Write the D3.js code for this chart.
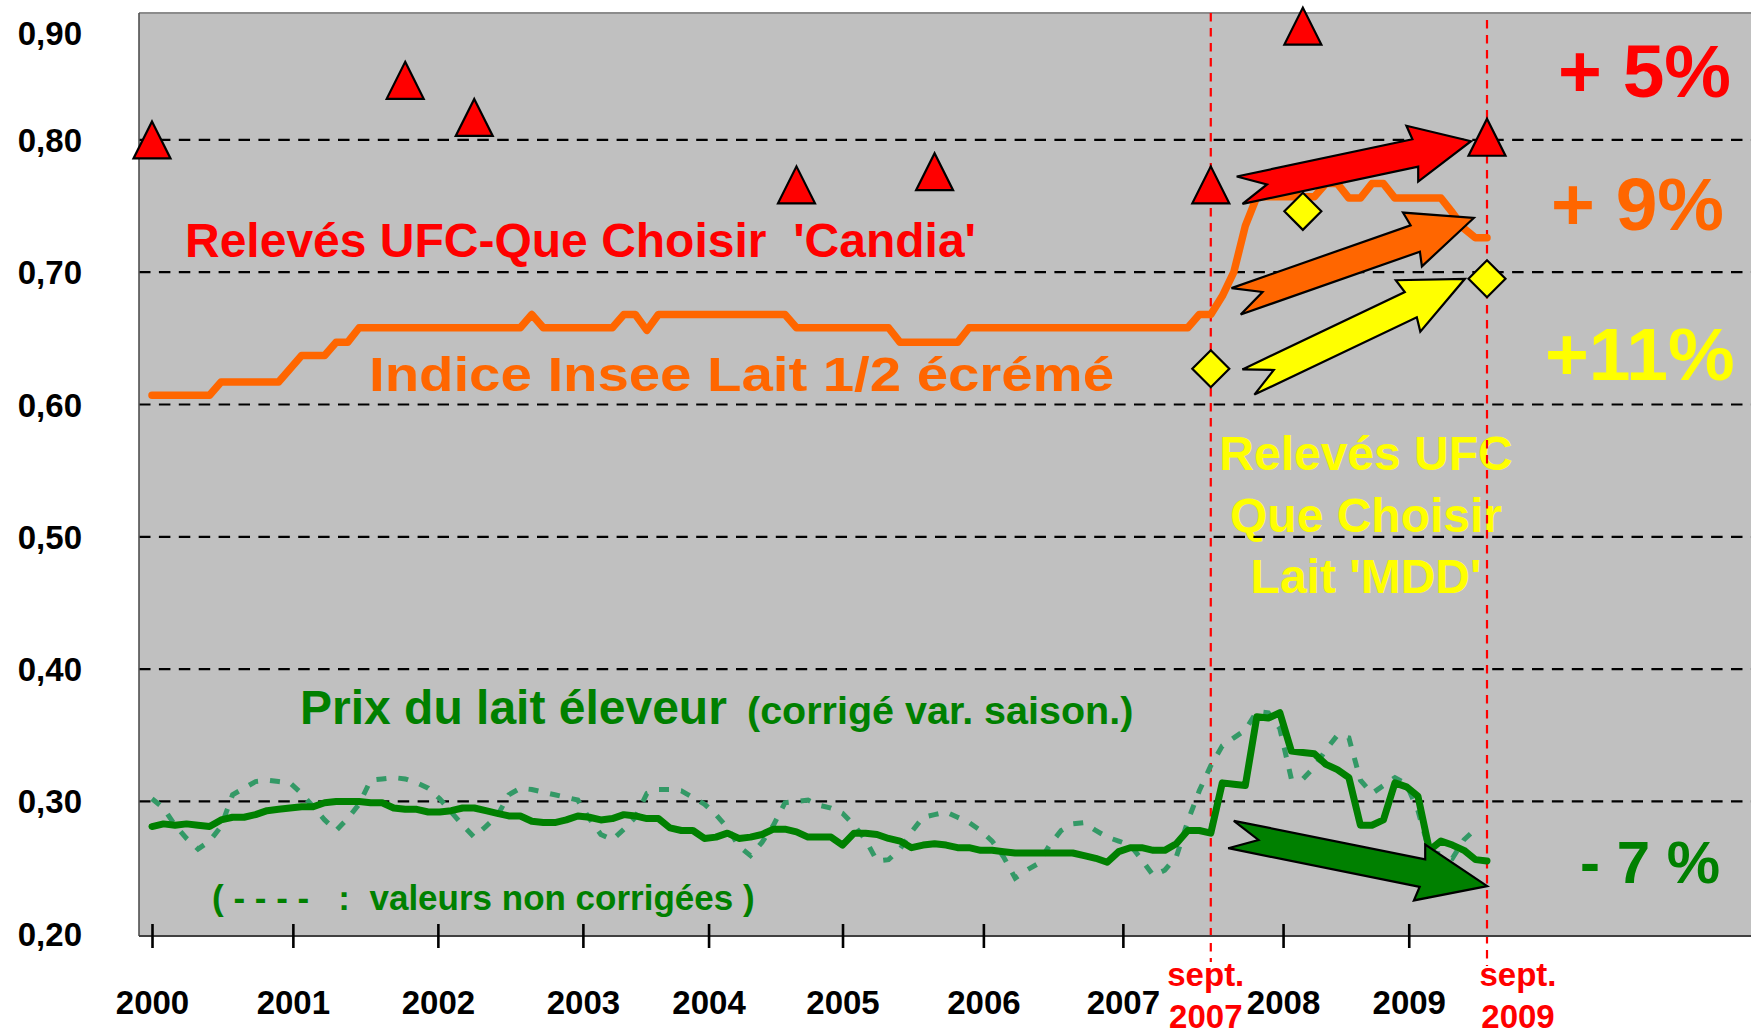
<!DOCTYPE html>
<html><head><meta charset="utf-8">
<script src="https://cdn.jsdelivr.net/npm/d3@7/dist/d3.min.js"></script>
<style>
html,body{margin:0;padding:0;background:#fff;}
svg{display:block;font-family:"Liberation Sans",Arial,Helvetica,sans-serif;font-weight:bold;}
text{white-space:pre;}
</style></head><body>
<svg id="c" width="1751" height="1035"></svg>
<script>
// ---------- DATA ----------
const yTickValues = [0.2, 0.3, 0.4, 0.5, 0.6, 0.7, 0.8, 0.9];
const yTickLabels = ["0,20", "0,30", "0,40", "0,50", "0,60", "0,70", "0,80", "0,90"];
const yearLabels = ["2000", "2001", "2002", "2003", "2004", "2005", "2006", "2007", "2008", "2009"];
const yearTickDates = [2000.00, 2001.02, 2002.07, 2003.12, 2004.03, 2005.00, 2006.02, 2007.03, 2008.19, 2009.10];

// monthly series, January 2000 .. September 2009
const inseeLait = [
  0.607,0.607,0.607,0.607,0.607,0.607, 0.617,0.617,0.617,0.617,0.617,0.617,
  0.627,0.637,0.637,0.637,0.647,0.647, 0.658,0.658,0.658,0.658,0.658,0.658,
  0.658,0.658,0.658,0.658,0.658,0.658, 0.658,0.658,0.658,0.668,0.658,0.658,
  0.658,0.658,0.658,0.658,0.658,0.668, 0.668,0.656,0.668,0.668,0.668,0.668,
  0.668,0.668,0.668,0.668,0.668,0.668, 0.668,0.668,0.658,0.658,0.658,0.658,
  0.658,0.658,0.658,0.658,0.658,0.647, 0.647,0.647,0.647,0.647,0.647,0.658,
  0.658,0.658,0.658,0.658,0.658,0.658, 0.658,0.658,0.658,0.658,0.658,0.658,
  0.658,0.658,0.658,0.658,0.658,0.658, 0.658,0.668,0.668,0.682,0.700,0.735,
  0.757,0.757,0.757,0.757,0.757,0.757, 0.767,0.767,0.756,0.756,0.767,0.767,
  0.756,0.756,0.756,0.756,0.756,0.745, 0.733,0.726,0.726
];
const prixEleveurCorrige = [
  0.281,0.283,0.282,0.283,0.282,0.281, 0.286,0.288,0.288,0.290,0.293,0.294,
  0.295,0.296,0.296,0.299,0.300,0.300, 0.300,0.299,0.299,0.295,0.294,0.294,
  0.292,0.292,0.293,0.295,0.295,0.293, 0.291,0.289,0.289,0.285,0.284,0.284,
  0.286,0.289,0.288,0.286,0.287,0.290, 0.289,0.287,0.287,0.280,0.278,0.278,
  0.272,0.273,0.276,0.272,0.273,0.275, 0.279,0.279,0.277,0.273,0.273,0.273,
  0.267,0.276,0.276,0.275,0.272,0.270, 0.265,0.267,0.268,0.267,0.265,0.265,
  0.263,0.263,0.262,0.261,0.261,0.261, 0.261,0.261,0.261,0.259,0.257,0.254,
  0.262,0.265,0.265,0.263,0.263,0.268, 0.278,0.278,0.276,0.314,0.313,0.312,
  0.364,0.363,0.367,0.338,0.337,0.336, 0.328,0.324,0.318,0.282,0.282,0.286,
  0.314,0.311,0.304,0.263,0.270,0.267, 0.263,0.256,0.255
];
const prixEleveurBrut = [
  0.302,0.295,0.282,0.272,0.264,0.270, 0.281,0.305,0.310,0.315,0.316,0.315,
  0.314,0.306,0.296,0.286,0.278,0.287, 0.298,0.316,0.317,0.318,0.317,0.314,
  0.310,0.302,0.292,0.282,0.273,0.281, 0.289,0.305,0.310,0.309,0.307,0.305,
  0.303,0.301,0.287,0.275,0.271,0.279, 0.288,0.306,0.309,0.309,0.308,0.303,
  0.298,0.290,0.280,0.266,0.259,0.269, 0.282,0.299,0.300,0.301,0.297,0.295,
  0.291,0.282,0.271,0.255,0.256,0.264, 0.277,0.288,0.290,0.292,0.288,0.284,
  0.278,0.270,0.258,0.242,0.248,0.253, 0.267,0.278,0.283,0.284,0.278,0.273,
  0.270,0.267,0.256,0.244,0.248,0.258, 0.285,0.308,0.327,0.342,0.348,0.354,
  0.368,0.367,0.355,0.317,0.317,0.326, 0.339,0.350,0.348,0.316,0.306,0.312,
  0.318,0.313,0.293,0.262,0.260,0.257, 0.271,0.279
];
// UFC-Que Choisir surveys (month index from Jan 2000)
const candiaMonths = [0, 22, 28, 56, 68, 92, 100, 116];
const candiaValues = [0.800, 0.845, 0.817, 0.766, 0.776, 0.766, 0.886, 0.802];
const mddMonths = [92, 100, 116];
const mddValues = [0.627, 0.746, 0.695];

// trend arrows (date, value) from -> to
const arrowFrom = [[2007.875, 0.762], [2007.850, 0.678], [2007.939, 0.617], [2007.813, 0.275]];
const arrowTo   = [[2009.551, 0.799], [2009.571, 0.741], [2009.507, 0.695], [2009.668, 0.236]];
const percentLabels = ["+ 5%", "+ 9%", "+11%", "- 7 %"];
const markerDates = [2007 + 8/12, 2009 + 8/12];  // sept. 2007, sept. 2009
const markerLabels = ["2007", "2009"];

// ---------- LAYOUT ----------
const NB = "\u00A0";
const svg = d3.select("#c");
const P = {left: 139, top: 13, right: 1751, bottom: 936};
const x = d3.scaleLinear().domain([2000, 2009 + 8/12]).range([152, 1487]);
const y = d3.scaleLinear().domain([0.2, 0.9]).range([933.7, 7.6]);
const mDate = m => 2000 + m / 12;
const COL = {red: "#FF0000", orange: "#FF6600", yellow: "#FFFF00", green: "#008000", greenDash: "#339966"};

svg.append("rect").attr("x", 0).attr("y", 0).attr("width", 1751).attr("height", 1035).attr("fill", "#fff");
svg.append("rect").attr("x", P.left).attr("y", P.top).attr("width", P.right - P.left).attr("height", P.bottom - P.top).attr("fill", "#C0C0C0");

// annotation texts (under grid)
const ann = svg.append("g");
ann.append("text").attr("x", 185).attr("y", 257).attr("font-size", 48).attr("fill", COL.red)
  .text("Relevés UFC-Que Choisir" + NB + NB + "'Candia'");
ann.append("text").attr("x", 369).attr("y", 391).attr("font-size", 48).attr("fill", COL.orange)
  .attr("textLength", 745).attr("lengthAdjust", "spacingAndGlyphs")
  .text("Indice Insee Lait 1/2 écrémé");
const mdd = ann.append("text").attr("font-size", 48).attr("fill", COL.yellow).attr("text-anchor", "middle");
[["Relevés UFC", 470], ["Que Choisir", 532], ["Lait 'MDD'", 593]].forEach(([t, yy]) =>
  mdd.append("tspan").attr("x", 1366).attr("y", yy).text(t));
const prix = ann.append("text").attr("y", 724).attr("fill", COL.green);
prix.append("tspan").attr("x", 300).attr("font-size", 48).text("Prix du lait éleveur");
prix.append("tspan").attr("x", 747).attr("font-size", 39.5).text("(corrigé var. saison.)");
ann.append("text").attr("x", 212).attr("y", 910).attr("font-size", 35).attr("fill", COL.green)
  .text(("( - - - -   :  valeurs non corrigées )").replace(/ /g, NB));

// gridlines
svg.append("g").selectAll("line").data(yTickValues.filter(v => v > 0.2 && y(v) > P.top)).join("line")
  .attr("x1", P.left).attr("x2", P.right).attr("y1", d => y(d)).attr("y2", d => y(d))
  .attr("stroke", "#000").attr("stroke-width", 2.2).attr("stroke-dasharray", "11.5,8.4");

// plot borders
svg.append("line").attr("x1", P.left).attr("x2", P.right).attr("y1", P.top).attr("y2", P.top)
  .attr("stroke", "#8c8c8c").attr("stroke-width", 2);
svg.append("line").attr("x1", P.left).attr("x2", P.left).attr("y1", P.top).attr("y2", P.bottom)
  .attr("stroke", "#505050").attr("stroke-width", 1.6);

// red vertical markers
svg.append("g").selectAll("line").data(markerDates).join("line")
  .attr("x1", d => x(d)).attr("x2", d => x(d)).attr("y1", (d, i) => i ? 20 : P.top).attr("y2", (d, i) => i ? 966 : 962)
  .attr("stroke", COL.red).attr("stroke-width", 2.2).attr("stroke-dasharray", "8.5,6.5");

// series lines
const line = d3.line().x((d, i) => x(mDate(i))).y(d => y(d));
svg.append("path").datum(prixEleveurBrut).attr("d", line).attr("fill", "none")
  .attr("stroke", COL.greenDash).attr("stroke-width", 5).attr("stroke-dasharray", "10,12");
svg.append("path").datum(prixEleveurCorrige).attr("d", line).attr("fill", "none")
  .attr("stroke", COL.green).attr("stroke-width", 7).attr("stroke-linejoin", "round").attr("stroke-linecap", "round");
svg.append("path").datum(inseeLait).attr("d", line).attr("fill", "none")
  .attr("stroke", COL.orange).attr("stroke-width", 7.5).attr("stroke-linejoin", "round").attr("stroke-linecap", "round");

// markers
const tri = "M0,-18.5L18.5,18.5L-18.5,18.5Z";
const dia = "M0,-18.5L18.5,0L0,18.5L-18.5,0Z";
svg.append("g").selectAll("path").data(candiaMonths).join("path")
  .attr("d", tri).attr("transform", (m, i) => `translate(${x(mDate(m))},${y(candiaValues[i])})`)
  .attr("fill", COL.red).attr("stroke", "#000").attr("stroke-width", 2.2).attr("stroke-linejoin", "miter");
svg.append("g").selectAll("path").data(mddMonths).join("path")
  .attr("d", dia).attr("transform", (m, i) => `translate(${x(mDate(m))},${y(mddValues[i])})`)
  .attr("fill", COL.yellow).attr("stroke", "#000").attr("stroke-width", 2.2);

// notched block arrows
function arrowPath(from, to, shaft, headW, headL, notch) {
  const x0 = x(from[0]), y0 = y(from[1]), x1 = x(to[0]), y1 = y(to[1]);
  const len = Math.hypot(x1 - x0, y1 - y0), ux = (x1 - x0) / len, uy = (y1 - y0) / len;
  const nx = -uy, ny = ux;
  const p = (u, w) => [x0 + u * ux + w * nx, y0 + u * uy + w * ny];
  const pts = [p(0, -shaft / 2), p(len - headL, -shaft / 2), p(len - headL - 3, -headW / 2), p(len, 0),
               p(len - headL - 3, headW / 2), p(len - headL, shaft / 2), p(0, shaft / 2), p(notch, 0)];
  return "M" + pts.map(q => q[0].toFixed(1) + "," + q[1].toFixed(1)).join("L") + "Z";
}
const arrowFill = [COL.red, COL.orange, COL.yellow, COL.green];
const arrowHead = [57, 62, 60, 66];
svg.append("g").selectAll("path").data(arrowFrom).join("path")
  .attr("d", (d, i) => arrowPath(d, arrowTo[i], 28, 57, arrowHead[i], 28))
  .attr("fill", (d, i) => arrowFill[i]).attr("stroke", "#000").attr("stroke-width", 2.2).attr("stroke-linejoin", "miter");

// percent labels
const pctPos = [[1558, 97, 75, COL.red], [1551, 230, 75, COL.orange], [1545, 380, 75, COL.yellow], [1580, 883, 60, COL.green]];
svg.append("g").selectAll("text").data(percentLabels).join("text")
  .attr("x", (d, i) => pctPos[i][0]).attr("y", (d, i) => pctPos[i][1])
  .attr("font-size", (d, i) => pctPos[i][2]).attr("fill", (d, i) => pctPos[i][3]).text(d => d.replace(/ /g, NB));

// x axis
svg.append("line").attr("x1", P.left).attr("x2", P.right).attr("y1", P.bottom).attr("y2", P.bottom)
  .attr("stroke", "#404040").attr("stroke-width", 2.2);
const xAxis = d3.axisBottom(x).tickValues(yearTickDates).tickSize(0).tickFormat((d, i) => yearLabels[i]);
const gx = svg.append("g").attr("transform", `translate(0,${P.bottom})`).call(xAxis);
gx.select(".domain").remove();
gx.selectAll(".tick text").attr("y", 78).attr("dy", 0).attr("font-size", 33)
  .attr("font-family", "'Liberation Sans',Arial,sans-serif").attr("font-weight", "bold").attr("fill", "#000");
gx.selectAll(".tick").append("line").attr("y1", -12).attr("y2", 12).attr("stroke", "#000").attr("stroke-width", 2.6);

// sept. labels
const sept = svg.append("g").attr("fill", COL.red).attr("font-size", 33).attr("text-anchor", "middle");
const septDx = [-5, 31];
markerDates.forEach((d, i) => {
  sept.append("text").attr("x", x(d) + septDx[i]).attr("y", 986).text("sept.");
  sept.append("text").attr("x", x(d) + septDx[i]).attr("y", 1028).text(markerLabels[i]);
});

// y axis labels
const yAxis = d3.axisLeft(y).tickValues(yTickValues).tickSize(0).tickFormat((d, i) => yTickLabels[i]);
const gy = svg.append("g").attr("transform", "translate(82,0)").call(yAxis);
gy.select(".domain").remove();
gy.selectAll(".tick").attr("transform", d => `translate(0,${Math.max(y(d), 33)})`);
gy.selectAll(".tick text").attr("x", 0).attr("dy", 12).attr("font-size", 33)
  .attr("font-family", "'Liberation Sans',Arial,sans-serif").attr("font-weight", "bold").attr("fill", "#000");
</script>
</body></html>
